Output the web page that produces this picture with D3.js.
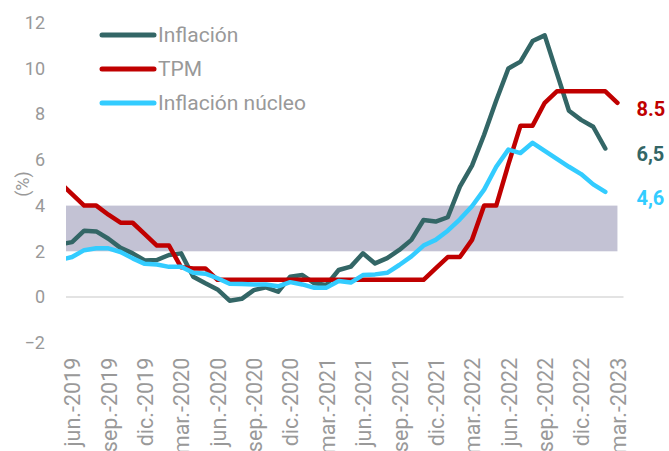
<!DOCTYPE html>
<html>
<head>
<meta charset="utf-8">
<script src="https://cdn.jsdelivr.net/npm/d3@7"></script>
<style>
  body { margin: 0; background: #fff; }
  svg { display: block; font-family: Roboto, "Noto Sans", sans-serif; }
</style>
</head>
<body>
<div id="chart"></div>
<script>
// monthly categories, may 2019 .. mar 2023 (may 2019 only feeds the clipped start of the lines)
const MONTH_ABBR = ["ene.", "feb.", "mar.", "abr.", "may.", "jun.", "jul.", "ago.", "sep.", "oct.", "nov.", "dic."];
const months = [];
for (let y = 2019, m = 4; y < 2023 || m <= 2; m++) {
  if (m > 11) { m = 0; y++; }
  months.push(MONTH_ABBR[m] + "-" + y);
  if (y === 2023 && m === 2) break;
}

const inflacion = [
  2.3, 2.4, 2.9, 2.87, 2.55, 2.15, 1.91, 1.6,
  1.62, 1.84, 1.91, 0.89, 0.6, 0.33, -0.16, -0.08, 0.3, 0.42, 0.23, 0.89,
  0.96, 0.6, 0.53, 1.18, 1.33, 1.91, 1.47, 1.7, 2.06, 2.5, 3.37, 3.3,
  3.49, 4.83, 5.75, 7.1, 8.6, 10.0, 10.3, 11.2, 11.45, 9.8, 8.15, 7.75,
  7.45, 6.5, null
];
const tpm = [
  5.0, 4.5, 4.0, 4.0, 3.6, 3.25, 3.25, 2.75,
  2.25, 2.25, 1.3, 1.25, 1.25, 0.75, 0.75, 0.75, 0.75, 0.75, 0.75, 0.75,
  0.75, 0.75, 0.75, 0.75, 0.75, 0.75, 0.75, 0.75, 0.75, 0.75, 0.75, 1.25,
  1.75, 1.75, 2.5, 4.0, 4.0, 5.8, 7.5, 7.5, 8.5, 9.0, 9.0, 9.0,
  9.0, 9.0, 8.5
];
const nucleo = [
  1.62, 1.75, 2.05, 2.13, 2.13, 1.97, 1.69, 1.45,
  1.42, 1.32, 1.32, 1.06, 1.02, 0.82, 0.58, 0.57, 0.55, 0.55, 0.47, 0.65,
  0.55, 0.4, 0.41, 0.7, 0.63, 0.96, 0.99, 1.06, 1.4, 1.78, 2.25, 2.5,
  2.9, 3.4, 3.97, 4.7, 5.7, 6.45, 6.3, 6.75, 6.4, 6.05, 5.7, 5.38,
  4.93, 4.6, null
];

const yTicks = [-2, 0, 2, 4, 6, 8, 10, 12];
const targetBand = [2, 4];
const endLabels = ["8.5", "6,5", "4,6"];

const series = [
  { name: "Inflación", values: inflacion, color: "#336666" },
  { name: "TPM", values: tpm, color: "#C00000" },
  { name: "Inflación núcleo", values: nucleo, color: "#33CCFF" }
];

const W = 669, H = 451;
const svg = d3.select("#chart").append("svg").attr("width", W).attr("height", H);

const x = d3.scaleLinear().domain([0.5, months.length - 0.5]).range([66, 623.5]);
const y = d3.scaleLinear().domain([-2, 12]).range([342.7, 22.8]);

// target range band
svg.append("rect")
  .attr("x", x.range()[0])
  .attr("width", x(months.length - 1) - x.range()[0])
  .attr("y", y(targetBand[1]))
  .attr("height", y(targetBand[0]) - y(targetBand[1]))
  .attr("fill", "#C3C2D4");

// zero line
svg.append("line")
  .attr("x1", x.range()[0]).attr("x2", x.range()[1])
  .attr("y1", y(0)).attr("y2", y(0))
  .attr("stroke", "#DADADA").attr("stroke-width", 1.5);

// y axis
const yAxis = svg.append("g")
  .attr("transform", `translate(${x.range()[0]},0)`)
  .call(d3.axisLeft(y).tickValues(yTicks).tickSize(0).tickPadding(21));
yAxis.select(".domain").remove();
yAxis.selectAll("text")
  .attr("font-size", 18).attr("font-family", "Roboto").attr("fill", "#999");

svg.append("text")
  .attr("transform", `translate(23,184) rotate(-90)`)
  .attr("text-anchor", "middle").attr("dy", "0.35em")
  .attr("font-size", 18).attr("fill", "#999")
  .text("(%)");

// x axis
const tickIdx = d3.range(1, months.length, 3);
const xAxis = svg.append("g")
  .attr("transform", `translate(0,${y(-2)})`)
  .call(d3.axisBottom(x).tickValues(tickIdx).tickFormat((i) => months[i]).tickSize(0));
xAxis.select(".domain").remove();
xAxis.selectAll("text")
  .attr("transform", "rotate(-90)")
  .attr("text-anchor", "end")
  .attr("x", -15).attr("y", 0).attr("dy", "0.36em")
  .attr("font-size", 21.5).attr("font-family", "Roboto").attr("fill", "#999");

// lines
svg.append("clipPath").attr("id", "plot-clip")
  .append("rect")
  .attr("x", x.range()[0]).attr("y", 0)
  .attr("width", x.range()[1] - x.range()[0]).attr("height", H);

const line = d3.line()
  .defined((d) => d != null)
  .x((d, i) => x(i))
  .y((d) => y(d));

svg.append("g").attr("clip-path", "url(#plot-clip)")
  .selectAll("path")
  .data(series)
  .enter()
  .append("path")
  .attr("d", (s) => line(s.values))
  .attr("fill", "none")
  .attr("stroke", (s) => s.color)
  .attr("stroke-width", 4.5)
  .attr("stroke-linejoin", "round")
  .attr("stroke-linecap", "round");

// end value labels
const lastOf = (arr) => arr.filter((d) => d != null).slice(-1)[0];
const endOrder = [series[1], series[0], series[2]];
svg.selectAll(".end-label")
  .data(endOrder)
  .enter()
  .append("text")
  .attr("class", "end-label")
  .attr("x", x(months.length - 1) + 19)
  .attr("y", (s) => y(lastOf(s.values)) + 13)
  .attr("font-size", 20).attr("font-weight", 700)
  .attr("fill", (s) => s.color)
  .text((s, i) => endLabels[i]);

// legend
const legend = svg.append("g");
series.forEach((s, i) => {
  const ly = 35 + i * 34;
  legend.append("line")
    .attr("x1", 102).attr("x2", 154).attr("y1", ly).attr("y2", ly)
    .attr("stroke", s.color).attr("stroke-width", 5).attr("stroke-linecap", "round");
  legend.append("text")
    .attr("x", 158).attr("y", ly + 7)
    .attr("font-size", 21).attr("fill", "#999")
    .text(s.name);
});
</script>
</body>
</html>
